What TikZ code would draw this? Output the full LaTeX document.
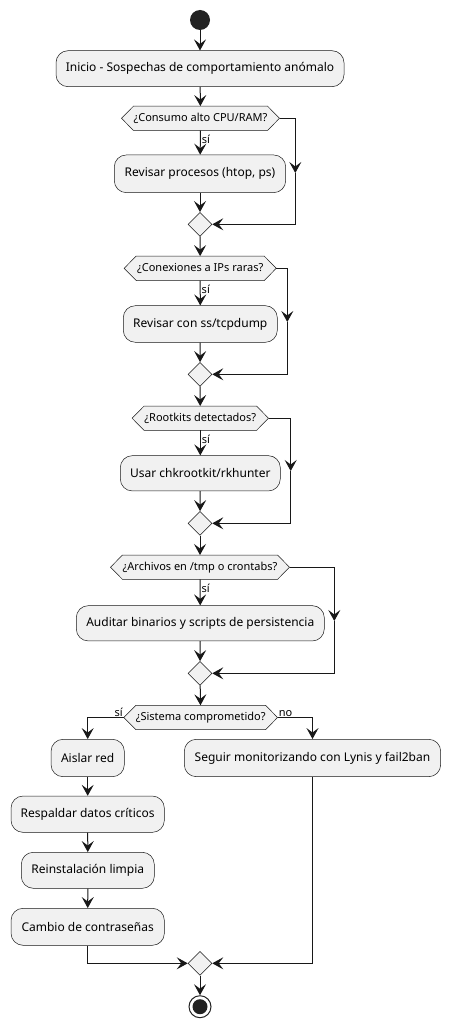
\documentclass[tikz,border=0pt]{standalone}
\usepackage{fontspec}
\setmainfont{Noto Sans}
\usetikzlibrary{arrows.meta,shapes.geometric,backgrounds}
\definecolor{cline}{HTML}{181818}
\definecolor{cfill}{HTML}{F1F1F1}
\definecolor{cdot}{HTML}{222222}
\tikzset{
  box/.style={draw=cline, line width=0.5pt, fill=cfill, rounded corners=12pt, font=\fontsize{12}{14}\selectfont, inner sep=0pt, align=center},
  hexnode/.style={inner sep=0pt, minimum height=24pt, font=\fontsize{11}{13}\selectfont},
  hexshape/.style={draw=cline, line width=0.5pt, fill=cfill},
  merge/.style={diamond, draw=cline, line width=0.5pt, fill=cfill, minimum width=24pt, minimum height=24pt, inner sep=0pt},
  arr/.style={draw=cline, line width=1pt, -{Stealth[length=11pt,width=12pt,inset=4.5pt]}},
  lbl/.style={font=\fontsize{11}{13}\selectfont, inner sep=1pt},
}
\newcommand{\hexfor}[1]{\begin{scope}[on background layer]\draw[hexshape] (#1.west) -- ([xshift=12pt]#1.north west) -- ([xshift=-12pt]#1.north east) -- (#1.east) -- ([xshift=-12pt]#1.south east) -- ([xshift=12pt]#1.south west) -- cycle;\end{scope}}
\begin{document}
\begin{tikzpicture}[x=1pt,y=-1pt]
\begin{scope}[on background layer]
\fill[white] (0,0) rectangle (450,1027);
\end{scope}
\useasboundingbox (0,0) rectangle (450,1027);
% start
\node[circle, fill=cdot, minimum size=20pt, inner sep=0pt] (start) at (200,20) {};
\node[box, minimum width=288pt, minimum height=36pt] (b1) at (200,68.7) {Inicio - Sospechas de comportamiento anómalo};
% block 1
\node[hexnode, minimum width=157.6pt] (h1) at (200.5,118.3) {¿Consumo alto CPU/RAM?};
\hexfor{h1}
\node[box, minimum width=171.4pt, minimum height=37.7pt] (b2) at (200,173.8) {Revisar procesos (htop, ps)};
\node[merge] (d1) at (200,224.3) {};
\coordinate (r1m) at (295.3,173);
% block 2
\node[hexnode, minimum width=151.7pt] (h2) at (200.2,268.3) {¿Conexiones a IPs raras?};
\hexfor{h2}
\node[box, minimum width=154pt, minimum height=36.6pt] (b3) at (200.3,324) {Revisar con ss/tcpdump};
\node[merge] (d2) at (200,374.3) {};
\coordinate (r2m) at (287.3,322);
% block 3
\node[hexnode, minimum width=136pt] (h3) at (200.3,418.2) {¿Rootkits detectados?};
\hexfor{h3}
\node[box, minimum width=160pt, minimum height=35.3pt] (b4) at (200.3,473.3) {Usar chkrootkit/rkhunter};
\node[merge] (d3) at (200,523.3) {};
\coordinate (r3m) at (290.7,471);
% block 4
\node[hexnode, minimum width=178.6pt] (h4) at (200,567.2) {¿Archivos en /tmp o crontabs?};
\hexfor{h4}
\node[box, minimum width=248pt, minimum height=35.3pt] (b5) at (200.3,623.3) {Auditar binarios y scripts de persistencia};
\node[merge] (d4) at (200,673.3) {};
\coordinate (r4m) at (334.3,621);
% final decision
\node[hexnode, minimum width=153.3pt] (h5) at (200.7,717.5) {¿Sistema comprometido?};
\hexfor{h5}
\node[box, minimum width=73.3pt, minimum height=37.4pt] (b6) at (87.7,758) {Aislar red};
\node[box, minimum width=256.4pt, minimum height=37.4pt] (b7) at (312.5,758) {Seguir monitorizando con Lynis y fail2ban};
\node[box, minimum width=153.3pt, minimum height=36.3pt] (b8) at (87.7,814.2) {Respaldar datos críticos};
\node[box, minimum width=133pt, minimum height=36pt] (b9) at (87.8,870.3) {Reinstalación limpia};
\node[box, minimum width=153.3pt, minimum height=37pt] (b10) at (87.7,926.8) {Cambio de contraseñas};
\node[merge] (d5) at (200,963.3) {};
\coordinate (l5) at (87.7,963.3);
\coordinate (r5) at (312.5,963.3);
% end
\node[circle, draw=cdot, line width=1pt, fill=white, minimum size=22pt, inner sep=0pt] (stop) at (200,1006.7) {};
\fill[cdot] (stop.center) circle (7.5pt);
% connectors
\draw[arr] (start) -- (b1);
\draw[arr] (b1) -- (h1);
\draw[arr] (h1) -- node[lbl, anchor=west, pos=0.35] {sí} (b2);
\draw[arr] (b2) -- (d1);
\draw[arr] (h1.east) -| (r1m);
\draw[arr] (r1m) |- (d1.east);
\draw[arr] (d1) -- (h2);
\draw[arr] (h2) -- node[lbl, anchor=west, pos=0.35] {sí} (b3);
\draw[arr] (b3) -- (d2);
\draw[arr] (h2.east) -| (r2m);
\draw[arr] (r2m) |- (d2.east);
\draw[arr] (d2) -- (h3);
\draw[arr] (h3) -- node[lbl, anchor=west, pos=0.35] {sí} (b4);
\draw[arr] (b4) -- (d3);
\draw[arr] (h3.east) -| (r3m);
\draw[arr] (r3m) |- (d3.east);
\draw[arr] (d3) -- (h4);
\draw[arr] (h4) -- node[lbl, anchor=west, pos=0.35] {sí} (b5);
\draw[arr] (b5) -- (d4);
\draw[arr] (h4.east) -| (r4m);
\draw[arr] (r4m) |- (d4.east);
\draw[arr] (d4) -- (h5);
\draw[arr] (h5.west) -| (b6.north);
\node[lbl, anchor=south east] (ls) at (h5.west) {sí};
\draw[arr] (h5.east) -| (b7.north);
\node[lbl, anchor=south west] (ln) at (h5.east) {no};
\draw[arr] (b6) -- (b8);
\draw[arr] (b8) -- (b9);
\draw[arr] (b9) -- (b10);
\draw[arr] (b10.south) -- (l5) -- (d5.west);
\draw[arr] (b7.south) -- (r5) -- (d5.east);
\draw[arr] (d5) -- (stop);
\end{tikzpicture}
\end{document}
